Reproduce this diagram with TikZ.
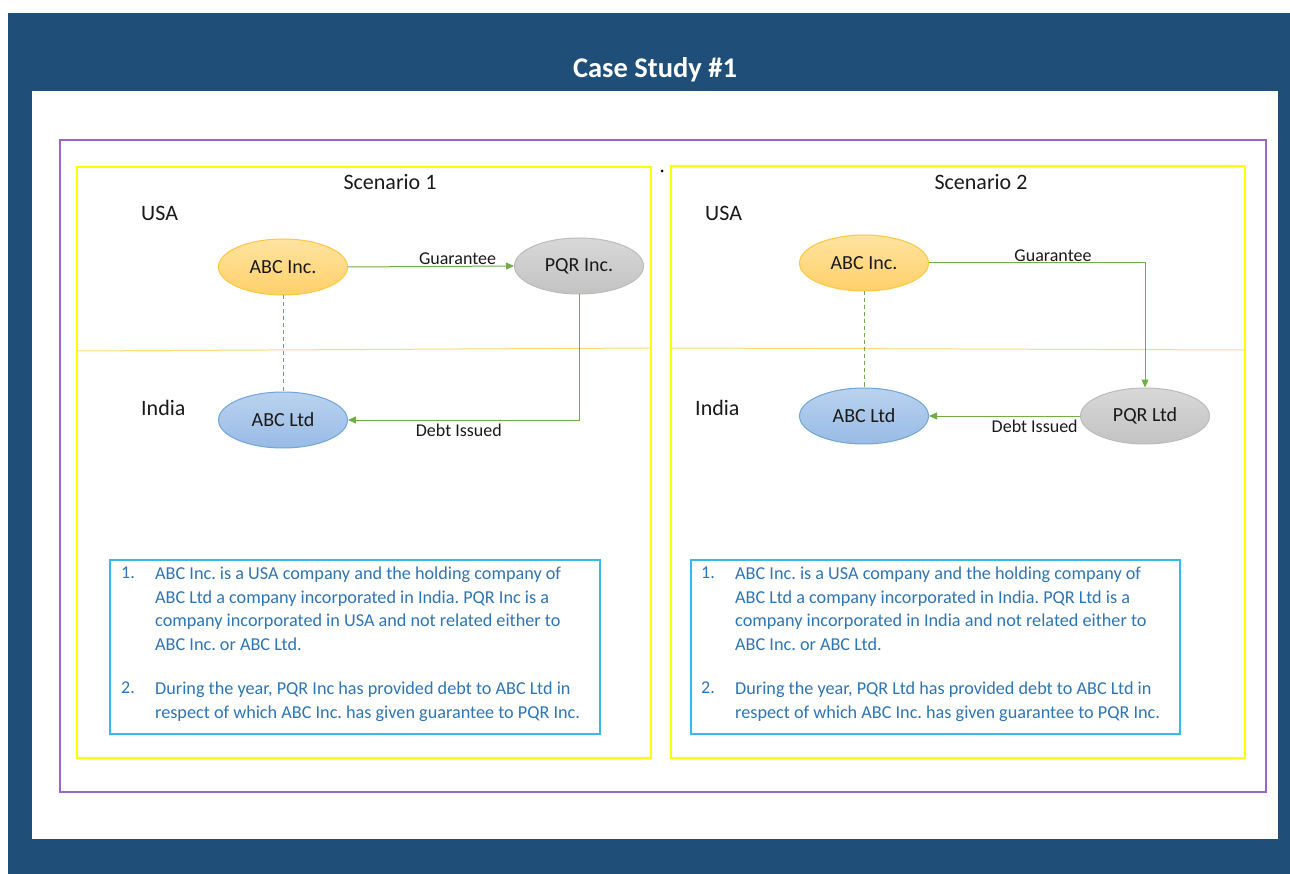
\documentclass[tikz,border=0pt]{standalone}
\usepackage{fontspec}
\setmainfont{Carlito}
\usetikzlibrary{shapes.geometric,arrows.meta}
\definecolor{navy}{HTML}{1F4E79}
\definecolor{purp}{HTML}{9966CC}
\definecolor{yel}{HTML}{FFFF00}
\definecolor{sep}{HTML}{FFD87A}
\definecolor{grn}{HTML}{70AD47}
\definecolor{txtblue}{HTML}{2E75B6}
\definecolor{boxblue}{HTML}{33BBEE}
\definecolor{dark}{HTML}{1A1A1A}
\definecolor{incT}{HTML}{FFE3A0}
\definecolor{incB}{HTML}{FFD06A}
\definecolor{incD}{HTML}{FFC73E}
\definecolor{ltdT}{HTML}{BAD2EF}
\definecolor{ltdB}{HTML}{98BBE5}
\definecolor{ltdD}{HTML}{6FA5DB}
\definecolor{pqrT}{HTML}{D8D8D8}
\definecolor{pqrB}{HTML}{C3C3C3}
\definecolor{pqrD}{HTML}{BBBBBB}
\tikzset{
  ent/.style={ellipse, minimum width=129pt, minimum height=56pt, inner sep=0pt, font=\fontsize{20}{24}\selectfont, text=dark, line width=1pt},
  yelfill/.style={ent, draw=incD, top color=incT, bottom color=incB},
  grayfill/.style={ent, draw=pqrD, top color=pqrT, bottom color=pqrB},
  bluefill/.style={ent, draw=ltdD, top color=ltdT, bottom color=ltdB},
  conn/.style={draw=grn, line width=1pt, -{Triangle[length=8pt,width=7pt]}},
  rel/.style={draw=grn, line width=1pt, dash pattern=on 4pt off 3pt},
  lbl/.style={font=\fontsize{18}{21}\selectfont, text=dark, inner sep=1pt},
  region/.style={font=\fontsize{22}{26}\selectfont, text=dark, anchor=west, inner sep=0pt},
  scen/.style={font=\fontsize{22}{26}\selectfont, text=dark, inner sep=0pt},
  num/.style={font=\fontsize{18}{23.5}\selectfont, text=txtblue, anchor=north west, inner sep=0pt},
  para/.style={font=\fontsize{18.2}{23.5}\selectfont, text=txtblue, anchor=north west, inner sep=0pt, align=left},
}
\frenchspacing
\begin{document}
\begin{tikzpicture}[x=1pt,y=-1pt]
\useasboundingbox (0,0) rectangle (1290,874);
\fill[white] (0,0) rectangle (1290,874);
\fill[navy] (8,13) rectangle (1290,874);
\fill[white] (32,91) rectangle (1278,839);
\node[font=\fontsize{28.5}{32}\bfseries, text=white] (title) at (655,70) {Case Study \#1};
\draw[purp, line width=1.2pt] (60,140) rectangle (1266,792);
\draw[yel, line width=1.1pt] (77,167) rectangle (651,758);
\draw[yel, line width=1.1pt] (671,166) rectangle (1245,758);
\fill[black] (662,171) circle (1.5pt);
\draw[sep, line width=1pt] (77,351) -- (651,348);
\draw[sep, line width=1pt] (671,348) -- (1245,350);

% Scenario 1
\node[scen] (s1) at (390,182) {Scenario 1};
\node[region] (usa1) at (141,213) {USA};
\node[region] (ind1) at (141,408) {India};
\node[yelfill] (abcinc1) at (283,267) {ABC Inc.};
\node[grayfill] (pqr1) at (579,266) {PQR Inc.};
\node[bluefill] (abcltd1) at (283,420) {ABC Ltd};
\draw[conn] (abcinc1.east) -- node[lbl, above, pos=0.66] {Guarantee} (pqr1.west);
\draw[conn] (pqr1.south) |- node[lbl, below, pos=0.76, yshift=-3pt] {Debt Issued} (abcltd1.east);
\draw[rel] (abcinc1.south) -- (abcltd1.north);

% Scenario 2
\node[scen] (s2) at (981,182) {Scenario 2};
\node[region] (usa2) at (705,213) {USA};
\node[region] (ind2) at (695,408) {India};
\node[yelfill] (abcinc2) at (864,263) {ABC Inc.};
\node[bluefill] (abcltd2) at (864,416) {ABC Ltd};
\node[grayfill] (pqr2) at (1145,416) {PQR Ltd};
\draw[conn] (abcinc2.east) -| node[lbl, above, pos=0.287] {Guarantee} (pqr2.north);
\draw[conn] (pqr2.west) -- node[lbl, below, pos=0.3, yshift=-3pt] {Debt Issued} (abcltd2.east);
\draw[rel] (abcinc2.south) -- (abcltd2.north);

% Text boxes
\draw[boxblue, line width=1.2pt] (110,560) rectangle (600,734);
\node[num] (n11) at (121,567) {1.};
\node[para] (p11) at (155,567) {ABC Inc. is a USA company and the holding company of\\ABC Ltd a company incorporated in India. PQR Inc is a\\company incorporated in USA and not related either to\\ABC Inc. or ABC Ltd.};
\node[num] (n12) at (121,682) {2.};
\node[para] (p12) at (155,682) {During the year, PQR Inc has provided debt to ABC Ltd in\\respect of which ABC Inc. has given guarantee to PQR Inc.};

\draw[boxblue, line width=1.2pt] (691,560) rectangle (1180,734);
\node[num] (n21) at (701,567) {1.};
\node[para] (p21) at (735,567) {ABC Inc. is a USA company and the holding company of\\ABC Ltd a company incorporated in India. PQR Ltd is a\\company incorporated in India and not related either to\\ABC Inc. or ABC Ltd.};
\node[num] (n22) at (701,682) {2.};
\node[para] (p22) at (735,682) {During the year, PQR Ltd has provided debt to ABC Ltd in\\respect of which ABC Inc. has given guarantee to PQR Inc.};
\end{tikzpicture}
\end{document}
